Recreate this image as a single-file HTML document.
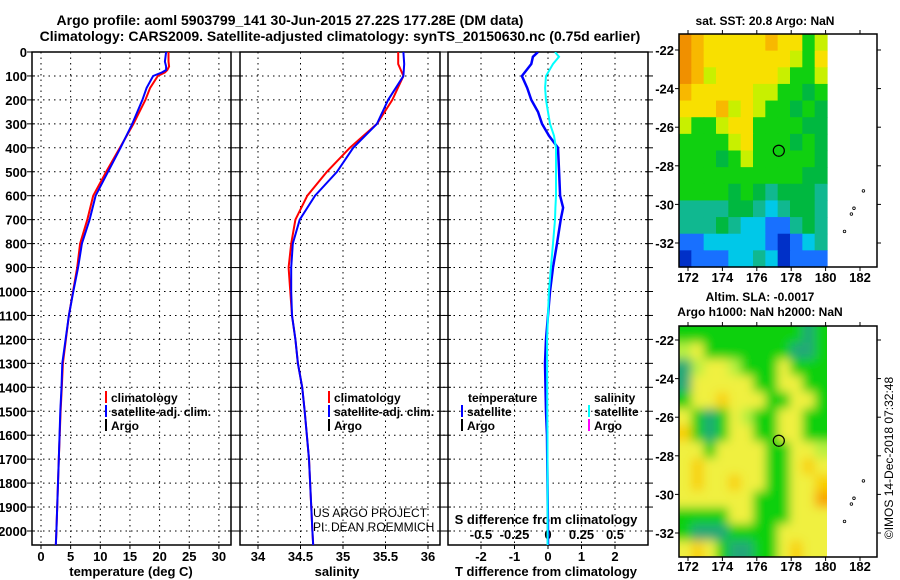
<!DOCTYPE html>
<html><head><meta charset="utf-8"><style>
body{margin:0;background:#fff;}
svg{display:block;font-family:"Liberation Sans",Arial,sans-serif;font-weight:bold;}
</style></head><body>
<svg id="c" width="900" height="580" viewBox="0 0 900 580">
<defs>
<clipPath id="cp1"><rect x="32" y="52" width="199" height="493"/></clipPath>
<clipPath id="cp2"><rect x="240" y="52" width="200" height="493"/></clipPath>
<clipPath id="cp3"><rect x="448" y="52" width="200" height="493"/></clipPath>
<clipPath id="cpm2"><rect x="679" y="326" width="148" height="231"/></clipPath>
<filter id="blur" x="-0.2" y="-0.2" width="1.4" height="1.4"><feGaussianBlur stdDeviation="5"/></filter>
</defs>
<text x="290" y="25" font-size="14" text-anchor="middle">Argo profile: aoml 5903799_141 30-Jun-2015 27.22S 177.28E (DM data)</text>
<text x="340" y="41" font-size="14" text-anchor="middle">Climatology: CARS2009. Satellite-adjusted climatology: synTS_20150630.nc (0.75d earlier)</text>
<g id="g"></g>
</svg>
<script>
// ---- data ----
const depthT = [0,40,60,75,85,100,150,200,300,400,500,600,700,800,900,1000,1100,1200,1300,1400,1500,1700,2000,2060];
const climTemp = [21.5,21.5,21.6,21.3,20.9,19.7,18.4,17.6,15.6,13.3,11.0,8.8,7.8,6.6,6.1,5.4,4.7,4.2,3.7,3.5,3.3,3.0,2.6,2.5];
const satTemp  = [21.1,20.9,21.1,21.1,20.4,18.9,17.8,17.1,15.4,13.4,11.3,9.2,8.2,6.9,6.25,5.45,4.7,4.15,3.6,3.45,3.25,3.0,2.6,2.5];
const depthS = [0,50,100,200,300,400,500,600,700,800,900,1000,1100,1200,1300,1400,1500,1700,2000,2060];
const climSal = [35.65,35.65,35.71,35.58,35.40,35.08,34.81,34.58,34.44,34.39,34.36,34.38,34.40,34.44,34.47,34.52,34.55,34.60,34.64,34.65];
const satSal  = [35.71,35.72,35.71,35.53,35.40,35.12,34.93,34.67,34.49,34.41,34.39,34.39,34.40,34.44,34.47,34.52,34.55,34.60,34.64,34.65];
const depthD = [0,20,50,100,150,200,250,300,350,400,500,600,650,700,800,900,1000,1100,1200,1300,1500,1600,2000,2060];
const tDiff = [-0.30,-0.45,-0.50,-0.78,-0.62,-0.50,-0.30,-0.18,0.03,0.30,0.33,0.36,0.45,0.38,0.27,0.15,0.06,0.0,-0.06,-0.09,-0.06,-0.03,0.0,0.0];
const sDiff = [0.052,0.082,0.037,-0.015,-0.022,-0.015,0.0,0.015,0.045,0.06,0.06,0.06,0.055,0.052,0.037,0.022,0.007,0.0,-0.007,-0.007,-0.005,-0.004,-0.003,-0.003];
const depthTicks = [0,100,200,300,400,500,600,700,800,900,1000,1100,1200,1300,1400,1500,1600,1700,1800,1900,2000];
const tempTicks = [0,5,10,15,20,25,30];
const salTicks = [34,34.5,35,35.5,36];
const salTickLabels = ["34","34.5","35","35.5","36"];
const tdTicks = [-2,-1,0,1,2];
const sdTicks = [-0.5,-0.25,0,0.25,0.5];
const sdTickLabels = ["-0.5","-0.25","0","0.25","0.5"];
const lonTicks = [172,174,176,178,180,182];
const latTicks = [-22,-24,-26,-28,-30,-32];
const sstGrid = [
"OoYYYYYoYYGy","OoYYYYYYYyGY","OoyYYYYYyGGy","oYYYYYyyGGgG","YYYoyYyGGgGg","yGGyYYGGGGgg","GGGGyYGGGgGg",
"GGGgGyGGGGGg","GGGGGGGGGGgg","GGGGgGgTgggT","TTTTggTCTggT","TTTgTCCBBTgT","BBCCCCCBDBCT","DBBBCCTCDBBB"];
const slaGrid = [
"GGGGGGGGGGTG","yYGGGGGGGTTG","TyYYyGGGYGGG","TYYYYYGGYYGG","GYYoYYYGGYYG","YGTGYyGGYYGG","oGTGYYGGYYGG",
"YYGYYYYGGYYy","YoYYYYYGGYoY","YoYYoYYGGYYo","YYYYYYGGGYYO","GGGGYYGGGYYY","GTTTGGGGYYYY","YoYGTTGGYoYY"];
// ---- scales ----
const yP = p => 52 + p*0.2395;
const xT = t => 41 + t*5.93;
const xS = s => 258 + (s-34)*85;
const xD = d => 548 + d*33.5;
const xSD = s => 548 + s*134;
const mapX = lon => 688 + (lon-172)*17.2;
const mapY1 = lat => 50 + (-22-lat)*19.3;
const mapY2 = lat => 340 + (-22-lat)*19.3;
const NS="http://www.w3.org/2000/svg";
const G=document.getElementById('g');
function el(tag,attrs,parent,txt){const e=document.createElementNS(NS,tag);for(const k in attrs)e.setAttribute(k,attrs[k]);if(txt!==undefined)e.textContent=txt;(parent||G).appendChild(e);return e;}
function path(xs,ys,fx,color,w,clip,name){
  let d='';for(let i=0;i<xs.length;i++){d+=(i?'L':'M')+fx(xs[i]).toFixed(1)+','+yP(ys[i]).toFixed(1);}
  const p=el('path',{d:d,fill:'none',stroke:color,'stroke-width':w,'clip-path':'url(#'+clip+')'});
  
  
}
const panels=[{x0:32,x1:231,clip:'cp1'},{x0:240,x1:440,clip:'cp2'},{x0:448,x1:648,clip:'cp3'}];
panels.forEach((P,pi)=>{
  const f=el('rect',{x:P.x0,y:52,width:P.x1-P.x0,height:493,fill:'none',stroke:'#000','stroke-width':1.5});
  
  
  depthTicks.forEach(p=>{
    const y=yP(p);
    if(p>0){const l=el('line',{x1:P.x0,x2:P.x1,y1:y,y2:y,stroke:'#000','stroke-dasharray':'1.5,4'});
      
      }
    el('line',{x1:P.x0-5,x2:P.x0+3,y1:y,y2:y,stroke:'#000'});
    el('line',{x1:P.x1-3,x2:P.x1+5,y1:y,y2:y,stroke:'#000'});
    if(pi===0){const t=el('text',{x:27,y:y+5,'font-size':13,'text-anchor':'end'},G,String(p));
      
      }
  });
});
function xAxis(ticks,labels,fx){
  ticks.forEach((v,i)=>{const x=fx(v);
    const l=el('line',{x1:x,x2:x,y1:52,y2:545,stroke:'#000','stroke-dasharray':'1.5,4'});
    
    
    el('line',{x1:x,x2:x,y1:545,y2:549,stroke:'#000'});
    const t=el('text',{x:x,y:561,'font-size':13,'text-anchor':'middle'},G,labels[i]);
    
    
  });
}
xAxis(tempTicks,tempTicks.map(String),xT);
xAxis(salTicks,salTickLabels,xS);
xAxis(tdTicks,tdTicks.map(String),xD);
sdTicks.forEach((v,i)=>{const t=el('text',{x:xSD(v),y:539,'font-size':13,'text-anchor':'middle'},G,sdTickLabels[i]);
  
  });
[[131,'temperature (deg C)','x-axis-title-temperature'],[337,'salinity','x-axis-title-salinity'],[546,'T difference from climatology','x-axis-title-tdiff']].forEach(a=>{
  const t=el('text',{x:a[0],y:576,'font-size':13,'text-anchor':'middle'},G,a[1]);
  
  });
const st=el('text',{x:546,y:524,'font-size':13,'text-anchor':'middle'},G,'S difference from climatology');


// series
path(climTemp,depthT,xT,'#f00',2,'cp1','temp-climatology-line');
path(satTemp,depthT,xT,'#00f',2,'cp1','temp-satellite-line');
path(climSal,depthS,xS,'#f00',2,'cp2','sal-climatology-line');
path(satSal,depthS,xS,'#00f',2,'cp2','sal-satellite-line');
path(tDiff,depthD,xD,'#00f',2.5,'cp3','tdiff-satellite-line');
path(sDiff,depthD,xSD,'#0ff',2,'cp3','sdiff-satellite-line');
// legends
function leg(x,y,color,label,name){
  el('rect',{x:x,y:y-11,width:2,height:12,fill:color});
  const t=el('text',{x:x+6,y:y,'font-size':12},G,label);
  
  
}
leg(105,402,'#f00','climatology','legend-t-climatology');
leg(105,416,'#00f','satellite-adj. clim.','legend-t-satellite');
leg(105,430,'#000','Argo','legend-t-argo');
leg(328,402,'#f00','climatology','legend-s-climatology');
leg(328,416,'#00f','satellite-adj. clim.','legend-s-satellite');
leg(328,430,'#000','Argo','legend-s-argo');
const lt=el('text',{x:468,y:402,'font-size':12},G,'temperature');
const ls=el('text',{x:594,y:402,'font-size':12},G,'salinity');
leg(461,416,'#00f','satellite','legend-tdiff-satellite');
leg(461,430,'#000','Argo','legend-tdiff-argo');
leg(588,416,'#0ff','satellite','legend-sdiff-satellite');
leg(588,430,'#f0f','Argo','legend-sdiff-argo');
const c1=el('text',{x:313,y:517,'font-size':12,'font-weight':'normal'},G,'US ARGO PROJECT');
const c2=el('text',{x:313,y:531,'font-size':12,'font-weight':'normal'},G,'PI: DEAN ROEMMICH');
// maps
const colMap={O:'#f09000',o:'#f8b800',Y:'#f8e000',y:'#c8f000',G:'#10d010',g:'#00b840',T:'#10b890',C:'#00c8e8',B:'#1870ff',D:'#0030c8'};
const colMap2={O:'#f8a800',o:'#f8d000',Y:'#f0f040',y:'#b8f040',G:'#10d010',g:'#00c040',T:'#20a878',C:'#00c8e8',B:'#1870ff',D:'#0030c8'};
function drawMap(grid,cm,y0,h,name,blur){
  const grp=el('g',{});
  
  
  const holder=blur?el('g',{'clip-path':'url(#cpm2)'},grp):grp;
  const inner=el('g',blur?{filter:'url(#blur)'}:{},holder);
  const cw=148/grid[0].length, ch=h/grid.length;
  grid.forEach((row,r)=>{[...row].forEach((c,k)=>{
    let x=679+k*cw, y=y0+r*ch, w=cw+0.6, hh=ch+0.6;
    if(blur){ if(k===0){x-=15;w+=15;} if(r===0){y-=15;hh+=15;} if(r===grid.length-1){hh+=15;} if(k===row.length-1){w+=15;} }
    el('rect',{x:x,y:y,width:w,height:hh,fill:cm[c]},inner);
  });});
  if(blur) el('rect',{x:827,y:y0,width:50,height:h,fill:'#fff'},grp);
  el('rect',{x:679,y:y0,width:198,height:h,fill:'none',stroke:'#000','stroke-width':1.5},grp);
}
drawMap(sstGrid,colMap,34,233,'sst-map',false);
drawMap(slaGrid,colMap2,326,231,'sla-map',true);
[[34,267,mapY1,280],[326,557,mapY2,569]].forEach((m,mi)=>{
  lonTicks.forEach(v=>{const x=mapX(v);
    el('line',{x1:x,x2:x,y1:m[1],y2:m[1]+4,stroke:'#000'});el('line',{x1:x,x2:x,y1:m[0]-4,y2:m[0],stroke:'#000'});
    const t=el('text',{x:x,y:m[3]+2,'font-size':13,'text-anchor':'middle'},G,String(v));
    
    });
  latTicks.forEach(v=>{const y=m[2](v);
    el('line',{x1:675,x2:679,y1:y,y2:y,stroke:'#000'});el('line',{x1:877,x2:881,y1:y,y2:y,stroke:'#000'});
    const t=el('text',{x:674,y:y+5,'font-size':13,'text-anchor':'end'},G,String(v));
    
    });
  const c=el('circle',{cx:mapX(177.28),cy:m[2](-27.22),r:5.5,fill:'none',stroke:'#000','stroke-width':1.2});
  
  
  [[182.2,-29.3],[181.5,-30.5],[181.65,-30.2],[181.1,-31.4]].forEach(p=>{
    el('circle',{cx:mapX(p[0]),cy:m[2](p[1]),r:1.3,fill:'none',stroke:'#000','stroke-width':0.8});});
});
[[765,25,'sat. SST: 20.8 Argo: NaN','sst-map-title'],[760,301,'Altim. SLA: -0.0017','sla-map-title'],[760,316,'Argo h1000: NaN h2000: NaN','sla-map-subtitle']].forEach(a=>{
  const t=el('text',{x:a[0],y:a[1],'font-size':12,'text-anchor':'middle'},G,a[2]);
  
  });
const im=el('text',{x:0,y:0,'font-size':12,'font-weight':'normal','text-anchor':'middle',transform:'translate(893,458) rotate(-90)'},G,'©IMOS 14-Dec-2018 07:32:48');


</script>
</body></html>
